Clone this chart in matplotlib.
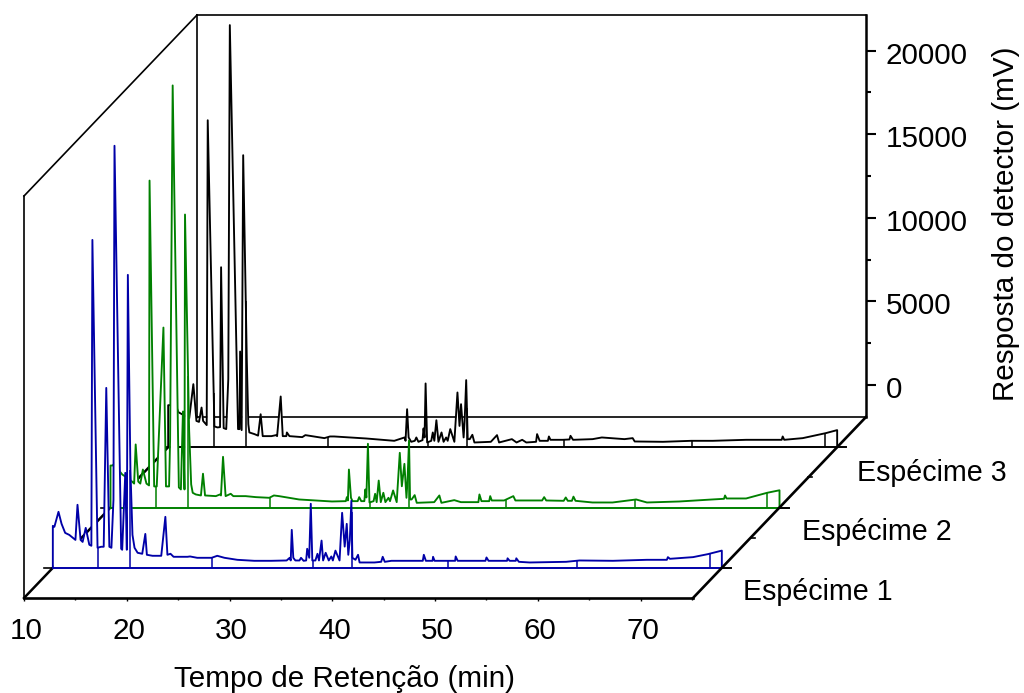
import numpy as np
import matplotlib
matplotlib.use('Agg')
import matplotlib.pyplot as plt
from matplotlib.ticker import MultipleLocator
from matplotlib.transforms import Affine2D, ScaledTranslation

plt.rcParams['font.family'] = ['Liberation Sans', 'DejaVu Sans']

# tempo (min) / sinal acima da linha de base (mV)
t_esp1 = [10, 10, 10.15, 10.55, 10.85, 11.2, 11.6, 12.2, 12.4, 12.7, 12.9, 13.2, 13.55, 13.75, 13.85, 14.35, 14.7, 14.95,
          15.2, 15.5, 15.7, 15.9, 16.0, 16.65, 16.75, 17.05, 17.2, 17.3, 17.55, 17.75, 17.95, 18.25, 18.7, 19.0, 19.15,
          19.7, 20.55, 20.95, 21.15, 21.45, 21.75, 23.1, 23.35, 24.05, 25.45, 26.0, 26.7, 27.95, 29.6, 31.25, 32.75,
          33.05, 33.15, 33.25, 33.4, 33.6, 34.0, 34.15, 34.4, 34.65, 34.75, 34.95, 35.1, 35.25, 35.55, 35.75, 35.9,
          36.15, 36.3, 36.55, 36.85, 37.1, 37.25, 37.5, 37.9, 38.15, 38.4, 38.6, 38.75, 38.9, 39.05, 39.15, 39.45,
          39.7, 39.85, 41.3, 41.95, 42.1, 42.3, 42.95, 43.75, 46.0, 46.1, 46.3, 46.95, 47.0, 47.15, 49.15, 49.2, 49.4,
          50.55, 52.1, 52.2, 52.4, 54.2, 54.25, 54.45, 55.05, 55.1, 55.35, 56.4, 59.95, 61.25, 64.5, 67.8, 69.75,
          69.85, 70.05, 72.3, 73.75, 75.1, 75.1]
s_esp1 = [0, 2510, 2450, 3350, 2630, 2090, 1970, 1670, 3770, 1670, 1550, 2390, 1380, 1320, 19610, 1200, 1260, 1260,
          10760, 1260, 1200, 4070, 25240, 1140, 1080, 5680, 1080, 17520, 5860, 1970, 1200, 900, 840, 2030, 780,
          720, 720, 3050, 780, 840, 660, 660, 680, 600, 600, 720, 600, 480, 420, 420, 440,
          600, 440, 2270, 600, 440, 440, 600, 420, 440, 1140, 600, 3830, 440, 440, 840, 440,
          1630, 440, 900, 440, 680, 440, 1030, 440, 3290, 1270, 2630, 780, 1670, 4010, 600, 480,
          780, 320, 320, 360, 660, 360, 420, 420, 420, 780, 420, 420, 660, 420, 420, 680, 420,
          420, 420, 620, 420, 420, 570, 420, 420, 570, 360, 320, 360, 440, 420, 480, 480,
          640, 540, 640, 820, 1030, 0]

t_esp2 = [10, 10, 10.2, 10.55, 10.75, 11.15, 11.6, 12.1, 12.3, 12.45, 12.7, 12.9, 13.15, 13.5, 13.75, 13.8, 14.25, 14.5,
          15.15, 15.4, 15.7, 15.8, 16.05, 16.65, 16.85, 17.05, 17.2, 17.25, 17.65, 17.85, 18.0, 18.3, 18.8, 19.0, 19.2,
          20.25, 20.65, 20.75, 20.95, 21.2, 21.7, 21.95, 23.15, 24.15, 25.45, 25.9, 26.4, 28.35, 31.55, 32.9,
          33.0, 33.1, 33.2, 33.4, 33.55, 34.05, 34.2, 34.4, 34.7, 34.8, 34.9, 35.05, 35.2, 35.6, 35.75, 35.9, 36.1,
          36.3, 36.55, 36.75, 37.05, 37.2, 37.5, 37.85, 38.15, 38.35, 38.6, 38.8, 38.9, 39.05, 39.15, 39.3, 39.6,
          39.8, 41.5, 42.0, 42.2, 43.45, 44.1, 45.05, 45.8, 45.9, 46.1, 46.85, 46.95, 47.1, 48.3, 49.2, 49.4, 52.0,
          52.2, 52.4, 54.1, 54.3, 54.5, 54.9, 55.05, 55.25, 56.9, 58.85, 61.15, 62.2, 65.35, 68.55, 69.7, 69.8, 69.95,
          71.85, 73.9, 75.1, 75.1]
s_esp2 = [0, 2510, 2510, 2750, 2270, 1970, 1790, 1550, 1430, 3770, 1550, 1430, 2270, 1430, 1320, 19550, 1260, 1260,
          10760, 1260, 1260, 4070, 25240, 1200, 1080, 5740, 1080, 17520, 4660, 1380, 880, 780, 720, 2020, 720,
          680, 780, 720, 3030, 680, 820, 680, 680, 620, 580, 720, 680, 480, 360, 380,
          620, 420, 2270, 580, 380, 380, 620, 380, 380, 1080, 600, 3810, 300, 380, 820, 320, 1610,
          320, 880, 320, 580, 380, 1020, 320, 3270, 1270, 2610, 580, 1570, 4010, 480, 480, 740,
          280, 320, 720, 280, 440, 320, 320, 320, 780, 380, 380, 680, 420, 420, 680, 420, 420,
          620, 420, 400, 600, 400, 400, 650, 400, 300, 300, 480, 300, 360, 480, 520, 720, 540,
          540, 880, 1030, 0]

t_esp3 = [10, 10, 10.3, 10.6, 11.0, 11.35, 11.75, 12.05, 12.45, 12.75, 13.0, 13.25, 13.4, 13.75, 13.85, 14.5, 14.8, 15.05,
          15.15, 15.4, 15.65, 15.85, 16.0, 16.8, 16.95, 17.0, 17.15, 17.3, 17.65, 17.8, 17.9, 18.4, 18.75, 19.0, 19.2,
          20.05, 20.5, 20.6, 20.95, 21.15, 21.5, 21.55, 21.8, 23.05, 23.35, 25.2, 25.75, 26.15, 29.25, 32.0,
          33.0, 33.1, 33.25, 33.4, 33.65, 34.0, 34.15, 34.35, 34.75, 34.85, 34.95, 35.05, 35.2, 35.6, 35.75, 35.9,
          36.1, 36.3, 36.6, 36.8, 37.05, 37.2, 37.45, 37.85, 38.15, 38.35, 38.5, 38.75, 38.85, 39.0, 39.15, 39.35,
          39.6, 39.8, 41.4, 42.0, 42.2, 43.45, 43.9, 44.45, 44.85, 45.8, 45.9, 46.15, 46.95, 47.05, 47.2, 48.4, 49.05,
          49.15, 49.4, 51.3, 52.2, 54.4, 55.2, 55.4, 58.15, 60.9, 63.0, 66.25, 69.7, 69.8, 69.95, 71.75, 74.0, 75.1, 75.1]
s_esp3 = [0, 2510, 2510, 2750, 2090, 1970, 1850, 1730, 3770, 1570, 1510, 2370, 1570, 1320, 19550, 1240, 1180, 1200,
          10760, 1140, 1080, 4070, 25240, 1080, 1080, 5720, 1020, 17460, 5260, 1380, 880, 780, 690, 1970, 660,
          660, 720, 660, 3030, 660, 660, 880, 660, 600, 720, 540, 640, 640, 520, 380,
          580, 380, 2270, 580, 320, 380, 580, 320, 420, 1120, 580, 3810, 280, 380, 880, 380,
          1610, 320, 880, 320, 580, 380, 1080, 320, 3270, 1270, 2570, 580, 1570, 4010, 480, 480,
          740, 280, 320, 720, 280, 480, 280, 440, 280, 320, 780, 380, 380, 640, 440, 440, 460,
          680, 440, 480, 580, 480, 540, 340, 320, 380, 380, 440, 440, 640, 440, 540, 840, 1020, 0]

marcas_tempo = [14.43, 17.55, 25.53, 35.27, 39.07, 48.5, 61.0, 73.9]
nomes = ['Espécime 1', 'Espécime 2', 'Espécime 3']
cores = ['#0000a8', '#008000', '#000000']
z_series = [1 / 6, 1 / 2, 5 / 6]

W, H = 1024, 693
X0, X1 = 24, 693          # piso frontal (pixels)
Y_FRENTE, Y_TOPO = 598, 196
DX_PX, DY_PX = 173, 181   # profundidade da caixa

XMIN, XMAX = 10, 75.1
PISO = -1914
TOPO = 22126
DEPTH_X = DX_PX * (XMAX - XMIN) / (X1 - X0)
DEPTH_Y = DY_PX * (TOPO - PISO) / (Y_FRENTE - Y_TOPO)
FONTE = 21.3

fig = plt.figure(figsize=(W / 100, H / 100), dpi=100)

# plano de tras: eixo y a direita
back = fig.add_axes([(X0 + DX_PX) / W, (H - Y_FRENTE + DY_PX) / H, (X1 - X0) / W, (Y_FRENTE - Y_TOPO) / H])
back.set_zorder(0)
back.set_xlim(XMIN, XMAX)
back.set_ylim(PISO, TOPO)
back.set_xticks([])
back.yaxis.tick_right()
back.yaxis.set_major_locator(MultipleLocator(5000))
back.yaxis.set_minor_locator(MultipleLocator(2500))
back.tick_params(axis='y', which='major', length=7.2, width=1.5, labelsize=FONTE, pad=7)
back.tick_params(axis='y', which='minor', length=3.6, width=1.5)
for lado in back.spines:
    back.spines[lado].set_linewidth(1.2)
back.spines['right'].set_linewidth(1.8)

# plano da frente
ax = fig.add_axes([X0 / W, (H - Y_FRENTE) / H, (X1 - X0) / W, (Y_FRENTE - Y_TOPO) / H])
ax.set_zorder(1)
ax.patch.set_visible(False)
ax.set_xlim(XMIN, XMAX)
ax.set_ylim(PISO, TOPO)
ax.set_yticks([])
ax.spines['top'].set_visible(False)
ax.spines['right'].set_visible(False)
ax.spines['left'].set_linewidth(1.2)
ax.spines['bottom'].set_linewidth(1.9)
ax.xaxis.set_minor_locator(MultipleLocator(5))
ax.set_xticks(np.arange(10, 71, 10))
ax.tick_params(axis='x', which='major', length=2, width=1.0, labelsize=FONTE, pad=12)
ax.tick_params(axis='x', which='minor', length=1.5, width=1.0)

# rotulos dos ticks ficam um pouco deslocados no original
for rot in ax.get_xticklabels():
    rot.set_transform(rot.get_transform() + ScaledTranslation(2 / 100, 0, fig.dpi_scale_trans))
for rot in back.get_yticklabels():
    rot.set_transform(rot.get_transform() + ScaledTranslation(0, -2 / 100, fig.dpi_scale_trans))

# arestas de profundidade
ax.plot([XMIN, XMIN + DEPTH_X], [PISO, PISO + DEPTH_Y], color='k', lw=1.8, zorder=1, clip_on=False)
ax.plot([XMIN, XMIN + DEPTH_X], [TOPO, TOPO + DEPTH_Y], color='k', lw=1.2, zorder=1, clip_on=False)
ax.plot([XMAX, XMAX + DEPTH_X], [PISO, PISO + DEPTH_Y], color='k', lw=1.9, zorder=12, clip_on=False)

series = [(t_esp1, s_esp1), (t_esp2, s_esp2), (t_esp3, s_esp3)]
# desenha de tras para a frente, cada curva tapa o que esta atras
for i in [2, 1, 0]:
    tempo = np.array(series[i][0], dtype=float)
    sinal = np.array(series[i][1], dtype=float) + PISO
    z = z_series[i]
    tr = Affine2D().translate(z * DEPTH_X, z * DEPTH_Y) + ax.transData
    base = 3 + 3 * (2 - i)

    ax.fill_between(tempo, PISO, sinal, color='white', lw=0, transform=tr, zorder=base, clip_on=False)
    ax.plot([XMIN, XMAX], [PISO, PISO], color=cores[i], lw=1.4, transform=tr, zorder=base + 1, clip_on=False)
    topos = np.interp(marcas_tempo, tempo[1:-1], sinal[1:-1])
    ax.vlines(marcas_tempo, PISO, topos, color=cores[i], lw=1.1, transform=tr, zorder=base + 1, clip_on=False)
    ax.plot(tempo, sinal, color=cores[i], lw=1.35, transform=tr, zorder=base + 2, clip_on=False)

    # traco em cada ponta da serie
    ax.plot([XMIN - 0.9, XMIN], [PISO, PISO], color='k', lw=1.2, transform=tr, zorder=base - 1, clip_on=False)
    ax.plot([XMAX, XMAX + 0.9], [PISO, PISO], color='k', lw=1.4, transform=tr, zorder=12, clip_on=False)

for z in [1 / 3, 2 / 3]:
    tr = Affine2D().translate(z * DEPTH_X, z * DEPTH_Y) + ax.transData
    ax.plot([XMAX, XMAX + 0.4], [PISO, PISO], color='k', lw=1.2, transform=tr, zorder=12, clip_on=False)

fig.text(345 / W, 1 - 679 / H, 'Tempo de Retenção (min)', fontsize=FONTE, ha='center', va='center')
fig.text(1006 / W, 1 - 224 / H, 'Resposta do detector (mV)', fontsize=FONTE, rotation=90, ha='center', va='center')
fig.text(743 / W, 1 - 592 / H, nomes[0], fontsize=20.6, ha='left', va='center')
fig.text(802 / W, 1 - 532 / H, nomes[1], fontsize=20.6, ha='left', va='center')
fig.text(857 / W, 1 - 473 / H, nomes[2], fontsize=20.6, ha='left', va='center')

fig.savefig('out.png', dpi=100)
